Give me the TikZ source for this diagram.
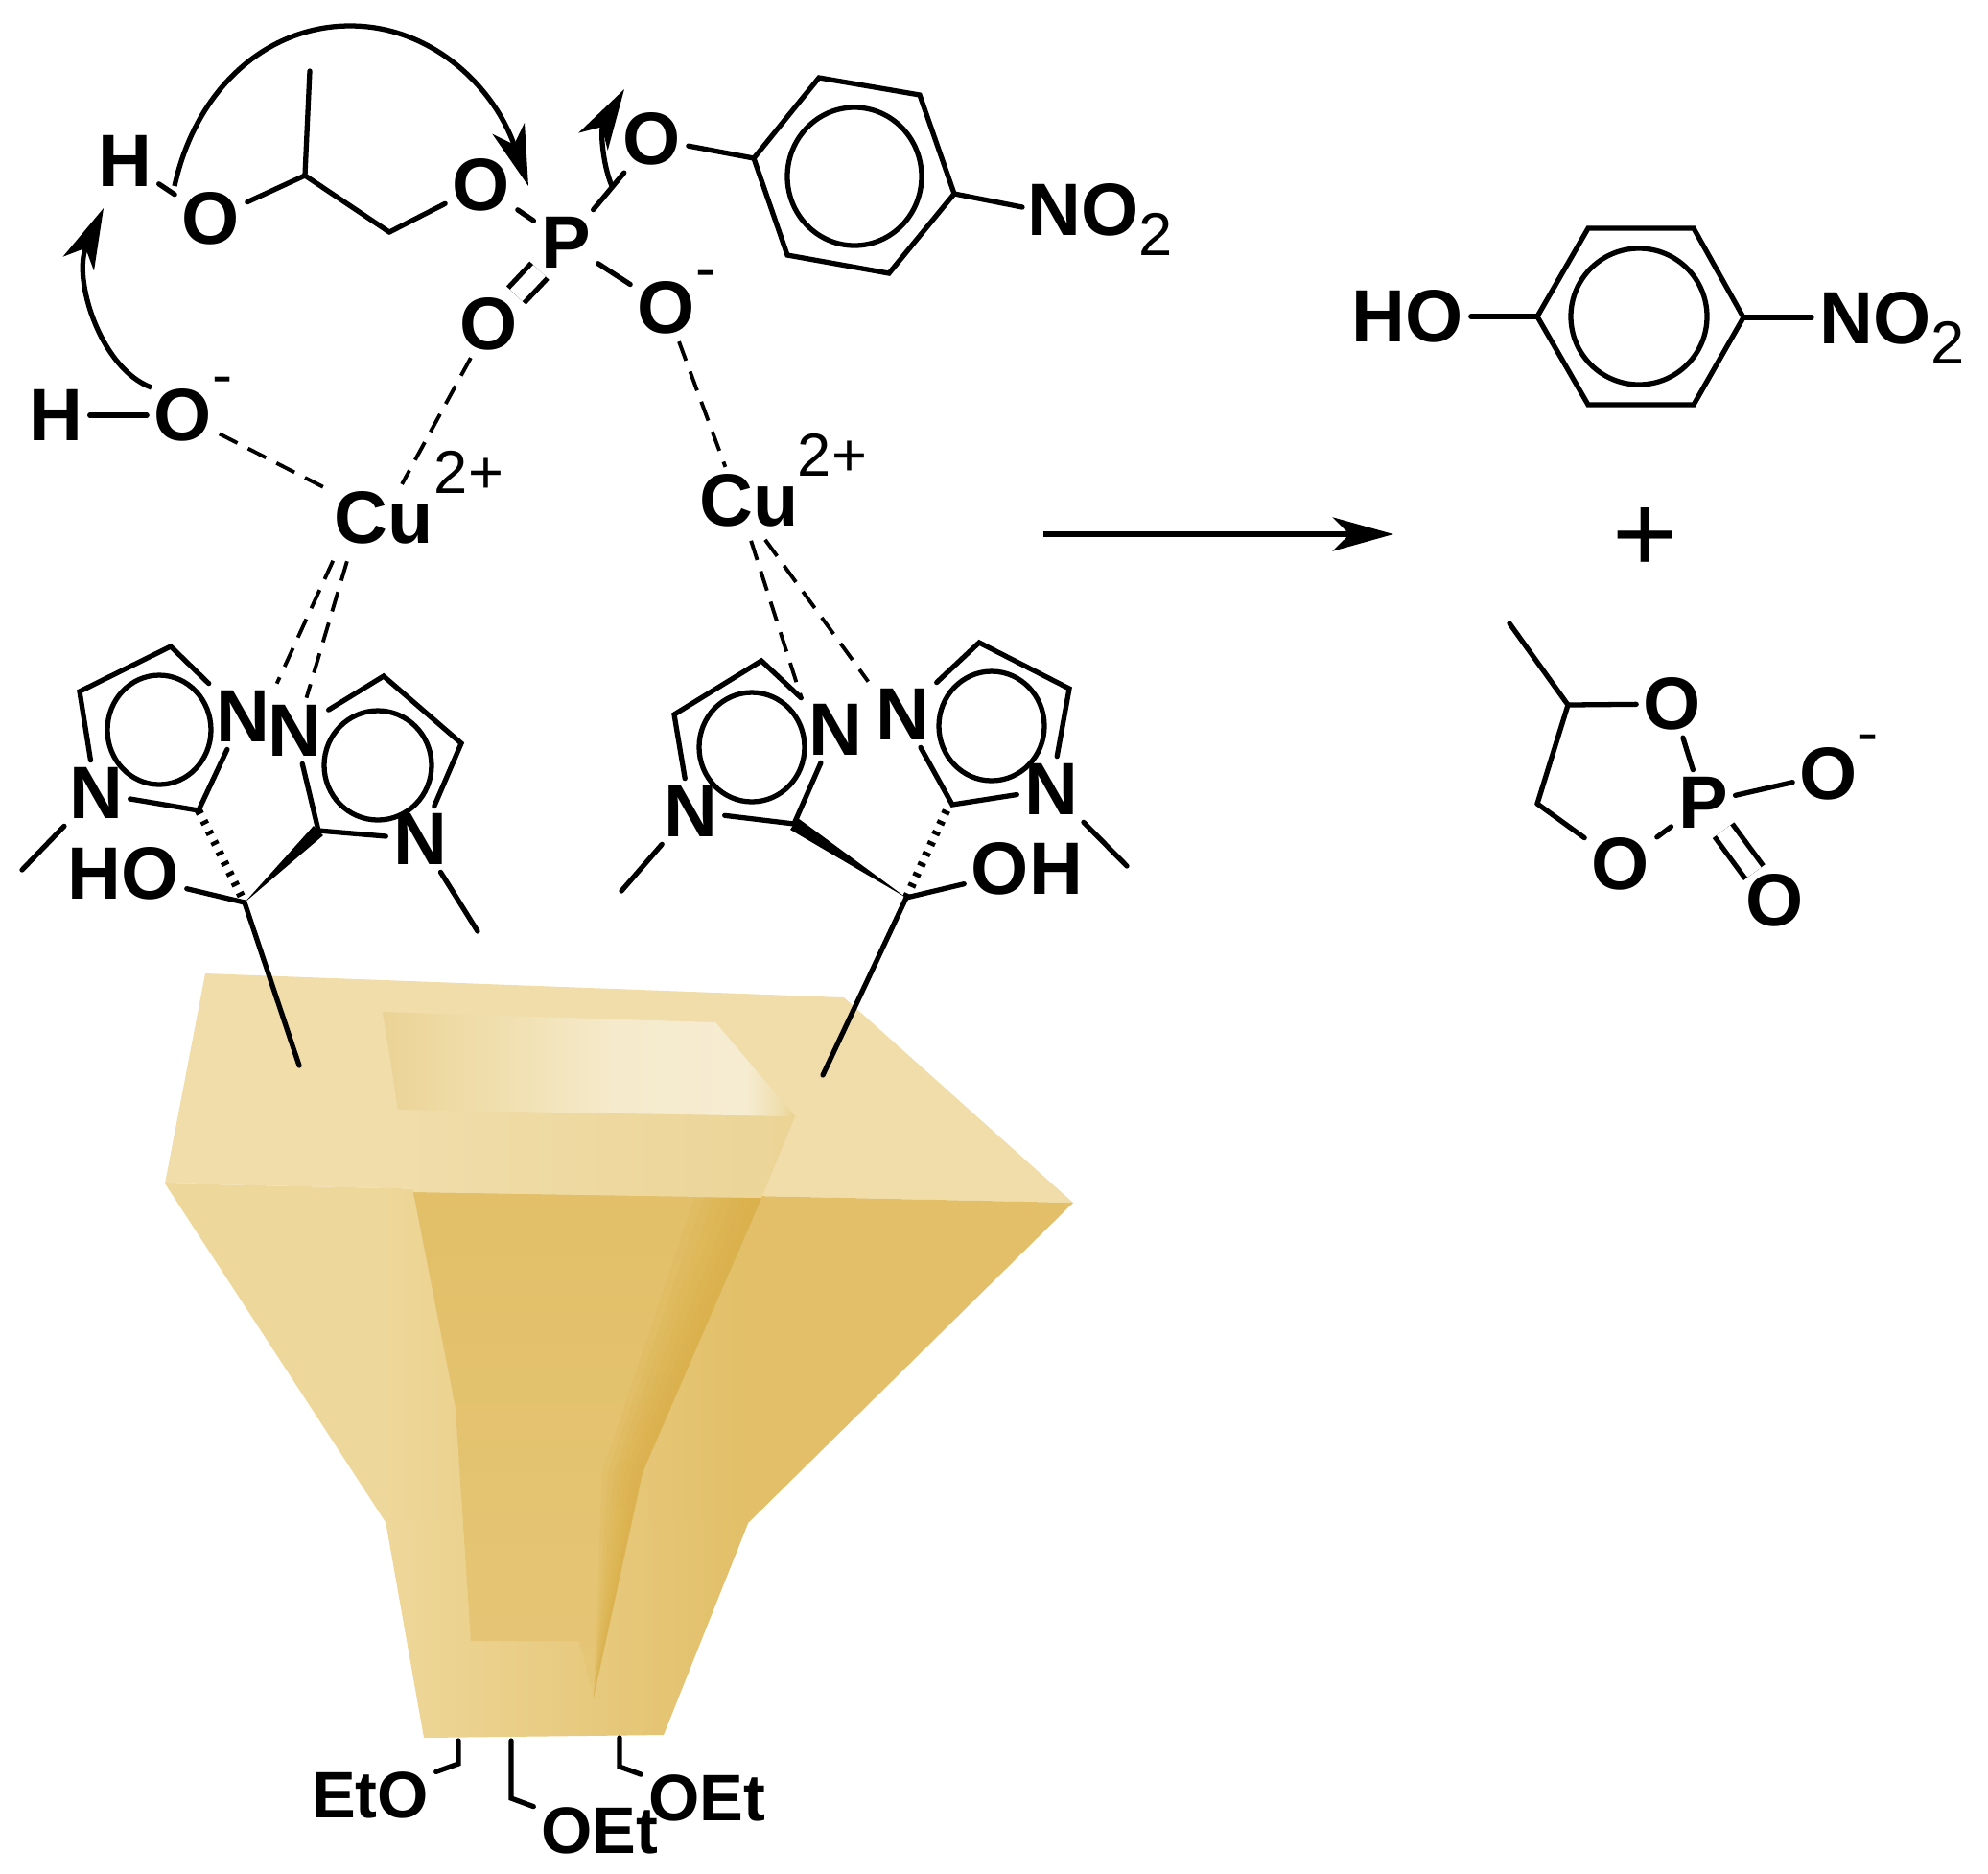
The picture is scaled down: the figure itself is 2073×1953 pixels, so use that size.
\documentclass[tikz,border=0pt]{standalone}
\usepackage{fontspec}
\setmainfont{Liberation Sans}
\usetikzlibrary{arrows.meta,positioning,shadings}
\definecolor{bowltop}{HTML}{F0DDAA}
\definecolor{bowlpale}{HTML}{EED79A}
\definecolor{bowlmid}{HTML}{E2BF68}
\definecolor{bowldark}{HTML}{D9AC40}
\definecolor{mouthA}{HTML}{EBD396}
\definecolor{mouthB}{HTML}{F0DFAE}
\definecolor{mouthC}{HTML}{F5EACB}
\definecolor{mouthD}{HTML}{F6ECD2}
\definecolor{mouthE}{HTML}{EFDDAB}
\definecolor{mouthF}{HTML}{E8D08F}
\pgfdeclarehorizontalshading{bowlmouth}{100bp}{
  color(0bp)=(mouthA); color(25bp)=(mouthA); color(39bp)=(mouthB); color(53bp)=(mouthC);
  color(69bp)=(mouthD); color(73.4bp)=(mouthE); color(75bp)=(mouthF); color(100bp)=(mouthF)}
\pgfdeclarehorizontalshading{bowlside}{100bp}{
  color(0bp)=(bowlpale); color(37bp)=(bowlpale); color(57bp)=(bowlmid); color(100bp)=(bowlmid)}
\tikzset{
  atom/.style={font=\fontsize{22}{24}\selectfont\bfseries,inner sep=2pt},
  etherlab/.style={font=\fontsize{19.5}{22}\selectfont\bfseries,inner sep=2pt},
  chargelab/.style={font=\fontsize{18}{20}\selectfont,inner sep=0pt},
  bond/.style={line width=1.5pt,line cap=round,line join=miter},
  dblbond/.style={bond,double,double distance=5pt,line cap=butt,shorten <=-2pt,shorten >=-2pt},
  dashbond/.style={line width=1.1pt,dash pattern=on 6pt off 3.5pt},
  hashbond/.style={line width=2.4pt,dash pattern=on 1.2pt off 2.2pt},
  curly/.style={line width=1.5pt,-{Stealth[length=18pt,width=10pt,inset=5pt]}}
}
\begin{document}
\begin{tikzpicture}[x=0.01cm,y=-0.01cm]

            \useasboundingbox (0,0) rectangle (2073,1953);

            \fill[bowltop] (214,1015) -- (880,1040) -- (1119,1254) -- (172,1234) -- cycle;

            \shade[shading=bowlside]
                (172,1234) -- (1119,1254) -- (781,1587) -- (402,1587) -- cycle;

            \shade[left color=bowlpale,right color=bowlmid]
                (402,1586) -- (781,1586) -- (692,1809) -- (442,1812) -- cycle;

            \shade[top color=bowlmid,bottom color=bowlmid!70!bowlpale]
                (431,1243) -- (794,1249) -- (670,1535) -- (619,1769) -- (604,1711)
                -- (491,1711) -- (475,1468) -- cycle;

            \foreach \w in {70,60,...,10}
                \fill[bowldark,opacity=.14] ({794-\w},1249) -- (794,1249) -- (670,1535) -- (619,1769)
                    -- ({670-.6*\w},1535) -- cycle;

            \shade[left color=bowltop,right color=bowltop!70!bowlmid]
                (415,1157) -- (829,1164) -- (794,1249) -- (431,1243) -- cycle;

            \shade[shading=bowlmouth] (399,1055) -- (746,1066) -- (829,1164) -- (415,1157) -- cycle;

            \node[atom] (hU) at (130,168) {H};
            \node[atom] (oA) at (220,228) {O};
            \node[atom] (oB) at (502,193) {O};
            \node[atom] (pU) at (590,253) {P};
            \node[atom] (oC) at (680,145) {O};
            \node[atom] (oD) at (510,338) {O};
            \node[atom] (oE) at (695,321) {O};
            \node[chargelab] (mE) at (736,292) {-};
            \node[atom,anchor=base west] (nitroA) at (1064,245) {NO\raisebox{-6pt}{\fontsize{18}{20}\selectfont\mdseries 2}};
            \node[atom] (hW) at (58,433) {H};
            \node[atom] (oW) at (191,433) {O};
            \node[chargelab] (mW) at (232,403) {-};
            \node[atom] (cuL) at (400,540) {Cu};
            \node[chargelab] (chgL) at (489,492) {2+};
            \node[atom] (cuR) at (781,522) {Cu};
            \node[chargelab] (chgR) at (868,474) {2+};

            \node[atom] (nA) at (253,747) {N};
            \node[atom] (nAb) at (100,827) {N};
            \node[atom] (nB) at (307,762) {N};
            \node[atom] (nBb) at (438,875) {N};
            \node[atom] (nC) at (871,761) {N};
            \node[atom] (nCb) at (720,846) {N};
            \node[atom] (nD) at (941,745) {N};
            \node[atom] (nDb) at (1096,823) {N};
            \node[atom] (hoL) at (129,911) {HO};
            \node[atom] (hoR) at (1071,906) {OH};

            \node[etherlab] (etoA) at (386,1872) {EtO};
            \node[etherlab] (etoB) at (625,1909) {OEt};
            \node[etherlab] (etoC) at (737,1875) {OEt};

            \node[atom] (hoP) at (1468,330) {HO};
            \node[atom,anchor=base west] (nitroB) at (1890,358) {NO\raisebox{-6pt}{\fontsize{18}{20}\selectfont\mdseries 2}};
            \node[atom,font=\fontsize{33}{34}\selectfont] (plus) at (1715,563) {+};
            \node[atom] (oF) at (1744,734) {O};
            \node[atom] (oG) at (1690,901) {O};
            \node[atom] (pL) at (1776,837) {P};
            \node[atom] (oH) at (1907,807) {O};
            \node[chargelab] (mH) at (1948,776) {-};
            \node[atom] (oJ) at (1851,939) {O};

            \coordinate (me) at (323,74);
            \coordinate (ch) at (318,183);
            \coordinate (ctwo) at (406,242);
            \path[bond] (oA) edge (ch) (ch) edge (me) (ch) edge (ctwo) (ctwo) edge (oB)
                        (hU) edge (oA) (oB) edge (pU) (pU) edge (oC) (pU) edge (oE);
            \draw[dblbond] (pU) -- (oD);
            \draw[bond] (hW) -- (oW);

            \coordinate (phA) at (786,165);
            \coordinate (phB) at (854,81);
            \coordinate (phC) at (959,99);
            \coordinate (phD) at (995,202);
            \coordinate (phE) at (927,285);
            \coordinate (phF) at (821,266);
            \coordinate (phM) at (891,184);
            \coordinate (phN) at (1066,216);
            \draw[bond] (phA) -- (phB) -- (phC) -- (phD) -- (phE) -- (phF) -- cycle;
            \draw[bond] (phM) circle [x radius=70,y radius=72];
            \draw[bond] (oC) -- (phA);
            \draw[bond] (phD) -- (phN);

            \coordinate (pqA) at (1603,330);
            \coordinate (pqB) at (1656,238);
            \coordinate (pqC) at (1766,238);
            \coordinate (pqD) at (1818,331);
            \coordinate (pqE) at (1766,422);
            \coordinate (pqF) at (1656,422);
            \coordinate (pqM) at (1709,330);
            \coordinate (pqN) at (1889,331);
            \draw[bond] (pqA) -- (pqB) -- (pqC) -- (pqD) -- (pqE) -- (pqF) -- cycle;
            \draw[bond] (pqM) circle [radius=71];
            \draw[bond] (hoP) -- (pqA);
            \draw[bond] (pqD) -- (pqN);

            \draw[dashbond] (oW) -- (cuL);
            \draw[dashbond] (oD) -- (cuL);
            \draw[dashbond] (oE) -- (cuR.125);
            \draw[dashbond,shorten <=3pt] (cuL.216) -- (nA.north east);
            \draw[dashbond,shorten <=3pt] (cuL.225) -- (nB.70);
            \draw[dashbond,shorten <=2pt] (cuR.south) -- (nC.north west);
            \draw[dashbond,shorten <=2pt] (cuR.-70) -- (nD.north west);

            \coordinate (raA) at (83,721);
            \coordinate (raB) at (178,674);
            \coordinate (raC) at (207,845);
            \coordinate (raM) at (166,761);
            \coordinate (meA) at (23,907);
            \draw[bond] (nAb) -- (raA) -- (raB) -- (nA);
            \draw[bond] (nA) -- (raC) -- (nAb);
            \draw[bond] (raM) circle [x radius=54,y radius=57];
            \draw[bond] (nAb) -- (meA);

            \coordinate (rbA) at (400,705);
            \coordinate (rbB) at (481,775);
            \coordinate (rbC) at (332,866);
            \coordinate (rbM) at (394,798);
            \coordinate (meB) at (498,971);
            \draw[bond] (nB) -- (rbA) -- (rbB) -- (nBb);
            \draw[bond] (nBb) -- (rbC) -- (nB);
            \draw[bond] (rbM) circle [x radius=56,y radius=57];
            \draw[bond] (nBb) -- (meB);

            \coordinate (rcA) at (703,745);
            \coordinate (rcB) at (794,689);
            \coordinate (rcC) at (828,859);
            \coordinate (rcM) at (784,779);
            \coordinate (meC) at (648,929);
            \draw[bond] (nCb) -- (rcA) -- (rcB) -- (nC);
            \draw[bond] (nC) -- (rcC) -- (nCb);
            \draw[bond] (rcM) circle [x radius=55,y radius=57];
            \draw[bond] (nCb) -- (meC);

            \coordinate (rdA) at (1021,670);
            \coordinate (rdB) at (1115,718);
            \coordinate (rdC) at (993,839);
            \coordinate (rdM) at (1034,757);
            \coordinate (meD) at (1175,903);
            \draw[bond] (nD) -- (rdA) -- (rdB) -- (nDb);
            \draw[bond] (nDb) -- (rdC) -- (nD);
            \draw[bond] (rdM) circle [x radius=55,y radius=57];
            \draw[bond] (nDb) -- (meD);

            \coordinate (stL) at (255,941);
            \coordinate (stR) at (945,936);
            \coordinate (legL) at (312,1111);
            \coordinate (legR) at (858,1121);
            \coordinate (raH) at (987,845);
            \draw[bond] (stL) -- (hoL);
            \draw[bond] (stR) -- (hoR);
            \draw[bond] (stL) -- (legL);
            \draw[bond] (stR) -- (legR);
            \draw[hashbond] (raC) -- (stL);
            \draw[hashbond] (raH) -- (stR);
            \fill (stL) -- ([shift={(-5,-5)}]rbC) -- ([shift={(5,5)}]rbC) -- cycle;
            \fill (stR) -- ([shift={(-4,6)}]rcC) -- ([shift={(4,-6)}]rcC) -- cycle;

            \coordinate (seA) at (478,1815);
            \coordinate (elA) at (478,1839);
            \coordinate (seB) at (533,1815);
            \coordinate (elB) at (533,1875);
            \coordinate (seC) at (646,1812);
            \coordinate (elC) at (646,1842);
            \draw[bond] (seA) -- (elA) -- (etoA);
            \draw[bond] (seB) -- (elB) -- (etoB);
            \draw[bond] (seC) -- (elC) -- (etoC);

            \coordinate (chP) at (1635,735);
            \coordinate (meP) at (1574,650);
            \coordinate (ctwoP) at (1603,838);
            \path[bond] (chP) edge (meP) (chP) edge (oF) (chP) edge (ctwoP) (ctwoP) edge (oG)
                        (oF) edge (pL) (oG) edge (pL) (pL) edge (oH);
            \draw[dblbond] (pL) -- (oJ);

            \coordinate (rxA) at (1088,557);
            \coordinate (rxB) at (1453,557);
            \draw[curly] (rxA) -- (rxB);

            \draw[curly] (182,194) .. controls (205,90) and (280,27) .. (365,27)
                .. controls (450,27) and (515,90) .. (551,194);
            \draw[curly] (158,404) .. controls (105,385) and (75,290) .. (108,217);
            \draw[curly] (638,194) .. controls (628,170) and (626,135) .. (651,93);

        \end{tikzpicture}
\end{document}
